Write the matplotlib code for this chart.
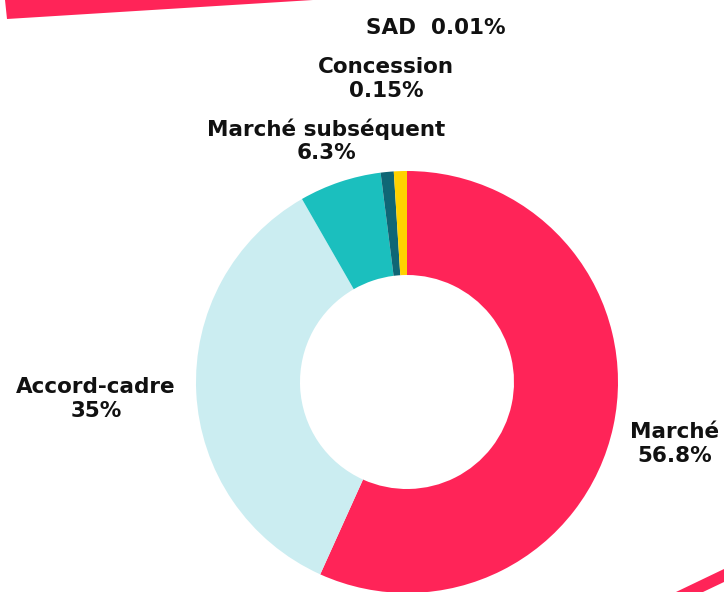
import matplotlib
matplotlib.use("Agg")
import matplotlib.pyplot as plt
from matplotlib.patches import Polygon

# Données
categories = ["Marché", "Accord-cadre", "Marché subséquent", "Concession", "SAD"]
valeurs = [56.8, 35, 6.3, 0.15, 0.01]
couleurs = ["#FF2458", "#CBEDF1", "#1BBFBE", "#0F6675", "#FFD200"]

# les très petites parts sont agrandies pour rester visibles
tailles = [max(v, 1.0) for v in valeurs]

fig = plt.figure(figsize=(7.24, 5.92), dpi=100)
ax = fig.add_axes([0, 0, 1, 1])
ax.set_xlim(0, 724)
ax.set_ylim(0, 592)
ax.set_aspect("equal")
ax.axis("off")

# bandes décoratives
ax.add_patch(Polygon([(5, 592), (7, 573), (313, 592)], color="#FF2458", lw=0))
ax.add_patch(Polygon([(676, 0), (724, 23), (724, 10), (703, 0)], color="#FF2458", lw=0))

ax.pie(tailles, colors=couleurs, startangle=90, counterclock=False,
       center=(407, 210), radius=211,
       wedgeprops=dict(width=104, linewidth=0))
ax.set_xlim(0, 724)
ax.set_ylim(0, 592)

# étiquettes
pos = {
    "Marché": (675, 148),
    "Accord-cadre": (96, 193),
    "Marché subséquent": (326, 451),
    "Concession": (386, 513),
    "SAD": (436, 564),
}
for nom, v in zip(categories, valeurs):
    if nom == "SAD":
        txt = f"{nom}  {v:g}%"
    else:
        txt = f"{nom}\n{v:g}%"
    x, y = pos[nom]
    ax.text(x, y, txt, ha="center", va="center", fontsize=15.5, fontweight="bold",
            family="DejaVu Sans", linespacing=1.2, color="#111111")

fig.savefig("out.png", dpi=100)
